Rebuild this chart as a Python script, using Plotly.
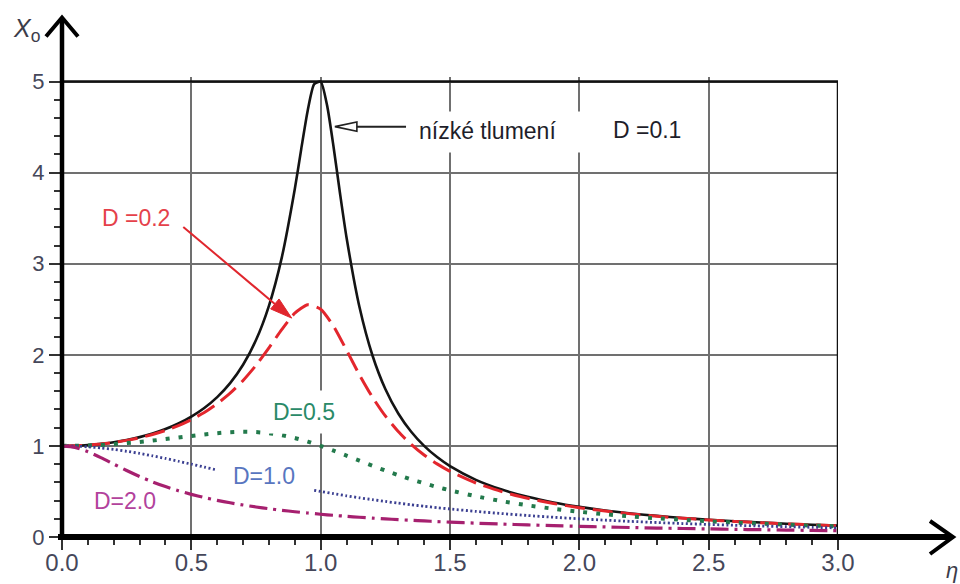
import plotly.graph_objects as go

# Frequency ratio eta (common sampling for the damped curves)
eta = [0.00, 0.05, 0.10, 0.15, 0.20, 0.25, 0.30, 0.35, 0.40, 0.45,
       0.50, 0.55, 0.60, 0.65, 0.70, 0.75, 0.80, 0.85, 0.90, 0.95,
       1.00, 1.05, 1.10, 1.15, 1.20, 1.25, 1.30, 1.35, 1.40, 1.45,
       1.50, 1.60, 1.70, 1.80, 1.90, 2.00, 2.10, 2.20, 2.30, 2.40,
       2.50, 2.60, 2.70, 2.80, 2.90, 3.00]

# Denser sampling around the sharp resonance peak of D = 0.1
eta_d01 = [0.00, 0.05, 0.10, 0.15, 0.20, 0.25, 0.30, 0.35, 0.40, 0.45,
           0.50, 0.55, 0.60, 0.65, 0.70, 0.75, 0.80, 0.85, 0.90, 0.925,
           0.95, 0.975, 1.00, 1.025, 1.05, 1.075, 1.10, 1.15, 1.20, 1.25,
           1.30, 1.35, 1.40, 1.45, 1.50, 1.60, 1.70, 1.80, 1.90, 2.00,
           2.10, 2.20, 2.30, 2.40, 2.50, 2.60, 2.70, 2.80, 2.90, 3.00]

x0_d01 = [1.000, 1.0025, 1.0099, 1.0225, 1.0408, 1.0652, 1.0965, 1.1360, 1.1851, 1.2460,
          1.3216, 1.4162, 1.5357, 1.6893, 1.8908, 2.1622, 2.5383, 3.0728, 3.8208, 4.2613,
          4.6826, 4.971, 5.000, 4.7357, 4.2794, 3.7677, 3.2880, 2.5245, 1.9952, 1.6245,
          1.3562, 1.1551, 1.0000, 0.8772, 0.7779, 0.6279, 0.5207, 0.4408, 0.3791, 0.3304,
          0.2911, 0.2587, 0.2318, 0.2090, 0.1896, 0.1729, 0.1584, 0.1457, 0.1345, 0.1247]

x0_d02 = [1.000, 1.0023, 1.0093, 1.0211, 1.0381, 1.0606, 1.0895, 1.1254, 1.1694, 1.2231,
          1.2883, 1.3673, 1.4630, 1.5790, 1.7188, 1.8851, 2.0762, 2.2786, 2.4566, 2.5490,
          2.5000, 2.3131, 2.0511, 1.7800, 1.5357, 1.3287, 1.1574, 1.0163, 0.8998, 0.8027,
          0.7212, 0.5931, 0.4979, 0.4250, 0.3679, 0.3221, 0.2847, 0.2538, 0.2279, 0.2059,
          0.1871, 0.1708, 0.1567, 0.1443, 0.1333, 0.1236]

x0_d05 = [1.000, 1.0013, 1.0050, 1.0112, 1.0198, 1.0307, 1.0436, 1.0585, 1.0748, 1.0921,
          1.1094, 1.1258, 1.1399, 1.1501, 1.1546, 1.1517, 1.1399, 1.1184, 1.0871, 1.0471,
          1.0000, 0.9479, 0.8930, 0.8373, 0.7824, 0.7295, 0.6795, 0.6326, 0.5891, 0.5490,
          0.5121, 0.4475, 0.3934, 0.3480, 0.3098, 0.2774, 0.2497, 0.2260, 0.2054, 0.1876,
          0.1720, 0.1582, 0.1461, 0.1353, 0.1257, 0.1170]

x0_d10 = [1.000, 0.9975, 0.9901, 0.9780, 0.9615, 0.9412, 0.9174, 0.8909, 0.8621, 0.8316,
          0.8000, 0.7678, 0.7353, 0.7030, 0.6711, 0.6400, 0.6098, 0.5806, 0.5525, 0.5256,
          0.5000, 0.4756, 0.4525, 0.4306, 0.4098, 0.3902, 0.3717, 0.3543, 0.3378, 0.3223,
          0.3077, 0.2809, 0.2571, 0.2358, 0.2169, 0.2000, 0.1848, 0.1712, 0.1590, 0.1479,
          0.1379, 0.1289, 0.1206, 0.1131, 0.1063, 0.1000]

x0_d20 = [1.000, 0.9829, 0.9365, 0.8719, 0.8002, 0.7295, 0.6640, 0.6052, 0.5534, 0.5079,
          0.4682, 0.4333, 0.4026, 0.3755, 0.3514, 0.3298, 0.3105, 0.2931, 0.2774, 0.2631,
          0.2500, 0.2380, 0.2270, 0.2169, 0.2075, 0.1987, 0.1906, 0.1831, 0.1760, 0.1694,
          0.1632, 0.1518, 0.1417, 0.1326, 0.1244, 0.1170, 0.1103, 0.1042, 0.0985, 0.0933,
          0.0885, 0.0841, 0.0800, 0.0762, 0.0727, 0.0693]

x_ticks = [0.0, 0.5, 1.0, 1.5, 2.0, 2.5, 3.0]
x_tick_labels = ["0.0", "0.5", "1.0", "1.5", "2.0", "2.5", "3.0"]
y_ticks = [0, 1, 2, 3, 4, 5]
y_tick_labels = ["0", "1", "2", "3", "4", "5"]

FONT = "Liberation Sans, Arial, Helvetica, sans-serif"
TICK_COLOR = "#45475a"
GRID_COLOR = "#707070"

# Page geometry (pixels). The value box 0..3 x 0..5 spans x 62..838, y 537..82;
# the y range gets a little headroom so the D=0.1 peak is not clipped flat.
W_PAGE, H_PAGE = 960, 584
X_MAX, Y_MAX = 3.0, 5.05
M_L, M_R, M_B = 62, 122, 47
PX_PER_Y = 91.0
M_T = H_PAGE - M_B - PX_PER_Y * Y_MAX
PW = W_PAGE - M_L - M_R
PH = H_PAGE - M_T - M_B
PX_PER_X = PW / X_MAX


def px(xp):
    """page pixel x -> paper fraction"""
    return (xp - M_L) / PW


def py(yp):
    """page pixel y -> paper fraction"""
    return (H_PAGE - M_B - yp) / PH


def dx(xp):
    """page pixel x -> eta value"""
    return (xp - M_L) / PX_PER_X


def dy(yp):
    """page pixel y -> X0 value"""
    return (H_PAGE - M_B - yp) / PX_PER_Y


fig = go.Figure()

curves = [
    (eta_d01, x0_d01, "#141414", "solid", 2.6),
    (eta, x0_d02, "#e3262d", "20px,8px", 3.0),
    (eta, x0_d05, "#237a4c", "4px,9px", 4.0),
    (eta, x0_d10, "#3b3f91", "2px,2.5px", 2.8),
    (eta, x0_d20, "#a6206f", "18px,6px,3px,6px", 3.2),
]
for xs, ys, color, dash, width in curves:
    fig.add_trace(go.Scatter(
        x=xs, y=ys, mode="lines",
        line=dict(color=color, dash=dash, width=width, shape="spline", smoothing=0.6),
        hoverinfo="skip",
    ))

shapes = []
# frame lines at eta = 3 and X0 = 5
shapes.append(dict(type="line", xref="x", yref="y", x0=0, x1=3, y0=5, y1=5,
                   line=dict(color="#111111", width=2.5), layer="above"))
shapes.append(dict(type="line", xref="x", yref="y", x0=3, x1=3, y0=0, y1=5,
                   line=dict(color="#111111", width=2.5), layer="above"))
# white background behind the "nízké tlumení / D=0.1" labels
shapes.append(dict(type="rect", xref="x", yref="y", x0=1.40, x1=2.47, y0=4.22, y1=4.67,
                   fillcolor="white", line=dict(width=0), layer="above"))
# pointer with open triangular head towards the D=0.1 peak
shapes.append(dict(type="line", xref="x", yref="y", x0=1.14, x1=1.33, y0=4.505, y1=4.505,
                   line=dict(color="#222222", width=2), layer="above"))
shapes.append(dict(type="path", xref="x", yref="y",
                   path="M 1.055,4.505 L 1.14,4.555 L 1.14,4.455 Z",
                   fillcolor="white", line=dict(color="#222222", width=1.6), layer="above"))

# red pointer from the "D =0.2" label to its curve, filled head
tip_x, tip_y = 0.888, 2.403          # point on the D = 0.2 curve
tail_px = (183.3, 227.3)
tip_px = (M_L + tip_x * PX_PER_X, H_PAGE - M_B - tip_y * PX_PER_Y)
vx, vy = tip_px[0] - tail_px[0], tip_px[1] - tail_px[1]
vlen = (vx * vx + vy * vy) ** 0.5
ux, uy = vx / vlen, vy / vlen
head_len, head_half = 22.0, 6.5
base = (tip_px[0] - head_len * ux, tip_px[1] - head_len * uy)
c1 = (base[0] - head_half * uy, base[1] + head_half * ux)
c2 = (base[0] + head_half * uy, base[1] - head_half * ux)
shapes.append(dict(type="line", xref="x", yref="y",
                   x0=dx(tail_px[0]), y0=dy(tail_px[1]), x1=dx(base[0]), y1=dy(base[1]),
                   line=dict(color="#e0262d", width=2), layer="above"))
shapes.append(dict(type="path", xref="x", yref="y",
                   path=(f"M {tip_x},{tip_y} L {dx(c1[0])},{dy(c1[1])} "
                         f"L {dx(c2[0])},{dy(c2[1])} Z"),
                   fillcolor="#e0262d", line=dict(color="#e0262d", width=1), layer="above"))

# axes with open arrow heads
shapes.append(dict(type="line", xref="paper", yref="paper", x0=px(58), x1=px(952), y0=0, y1=0,
                   line=dict(color="black", width=6), layer="above"))
shapes.append(dict(type="line", xref="paper", yref="paper", x0=0, x1=0, y0=py(540), y1=py(19),
                   line=dict(color="black", width=4.5), layer="above"))
shapes.append(dict(type="path", xref="paper", yref="paper",
                   path=f"M {px(930)},{py(521)} L {px(953)},{py(537)} L {px(930)},{py(554)}",
                   line=dict(color="black", width=4), layer="above"))
shapes.append(dict(type="path", xref="paper", yref="paper",
                   path=f"M {px(46)},{py(37)} L {px(62)},{py(18)} L {px(78)},{py(37)}",
                   line=dict(color="black", width=4), layer="above"))

annotations = [
    dict(x=1.645, y=4.462, text="nízké tlumení", showarrow=False,
         font=dict(family=FONT, size=23, color="#1e1e2a")),
    dict(x=2.262, y=4.47, text="D =0.1", showarrow=False,
         font=dict(family=FONT, size=23, color="#1e1e2a")),
    dict(x=0.286, y=3.50, text="D =0.2", showarrow=False,
         font=dict(family=FONT, size=23, color="#e5414a")),
    dict(x=0.936, y=1.374, text="D=0.5", showarrow=False, bgcolor="white",
         width=76, height=36, borderpad=3,
         font=dict(family=FONT, size=23, color="#2a8a68")),
    dict(x=0.781, y=0.675, text="D=1.0", showarrow=False, bgcolor="white",
         width=92, height=30, borderpad=2,
         font=dict(family=FONT, size=23, color="#5876c0")),
    dict(x=0.244, y=0.40, text="D=2.0", showarrow=False,
         font=dict(family=FONT, size=23, color="#b2429c")),
    dict(xref="paper", yref="paper", x=px(11), y=py(30), xanchor="left", yanchor="middle",
         text="<i>X</i><sub>o</sub>", showarrow=False,
         font=dict(family=FONT, size=25, color="#3c3c4a")),
    dict(xref="paper", yref="paper", x=px(944), y=py(556), xanchor="left", yanchor="top",
         text="<i>η</i>", showarrow=False,
         font=dict(family=FONT, size=22, color="#3c3c4a")),
]

fig.update_layout(
    template="none",
    width=W_PAGE, height=H_PAGE, autosize=False,
    margin=dict(l=M_L, r=M_R, t=M_T, b=M_B, pad=0, autoexpand=False),
    paper_bgcolor="white", plot_bgcolor="white",
    showlegend=False,
    font=dict(family=FONT),
    shapes=shapes,
    annotations=annotations,
)

fig.update_xaxes(
    range=[0, X_MAX], fixedrange=True, automargin=False,
    tickvals=x_ticks, ticktext=x_tick_labels,
    showgrid=True, gridcolor=GRID_COLOR, gridwidth=2,
    zeroline=False, showline=False,
    ticks="outside", ticklen=12, tickwidth=2, tickcolor="#333333",
    ticklabelstandoff=-8,
    tickfont=dict(family=FONT, size=24, color=TICK_COLOR),
    minor=dict(tick0=0, dtick=0.1, ticks="outside", ticklen=7, tickwidth=2,
               tickcolor="#333333", showgrid=False),
)
fig.update_yaxes(
    range=[0, Y_MAX], fixedrange=True, automargin=False,
    tickvals=y_ticks, ticktext=y_tick_labels,
    showgrid=True, gridcolor=GRID_COLOR, gridwidth=2,
    zeroline=False, showline=False,
    ticks="outside", ticklen=12, tickwidth=2, tickcolor="#333333",
    tickfont=dict(family=FONT, size=22, color=TICK_COLOR),
    minor=dict(tick0=0, dtick=0.2, ticks="outside", ticklen=7, tickwidth=2,
               tickcolor="#333333", showgrid=False),
)

fig.write_html("out.html", config={"displayModeBar": False})
